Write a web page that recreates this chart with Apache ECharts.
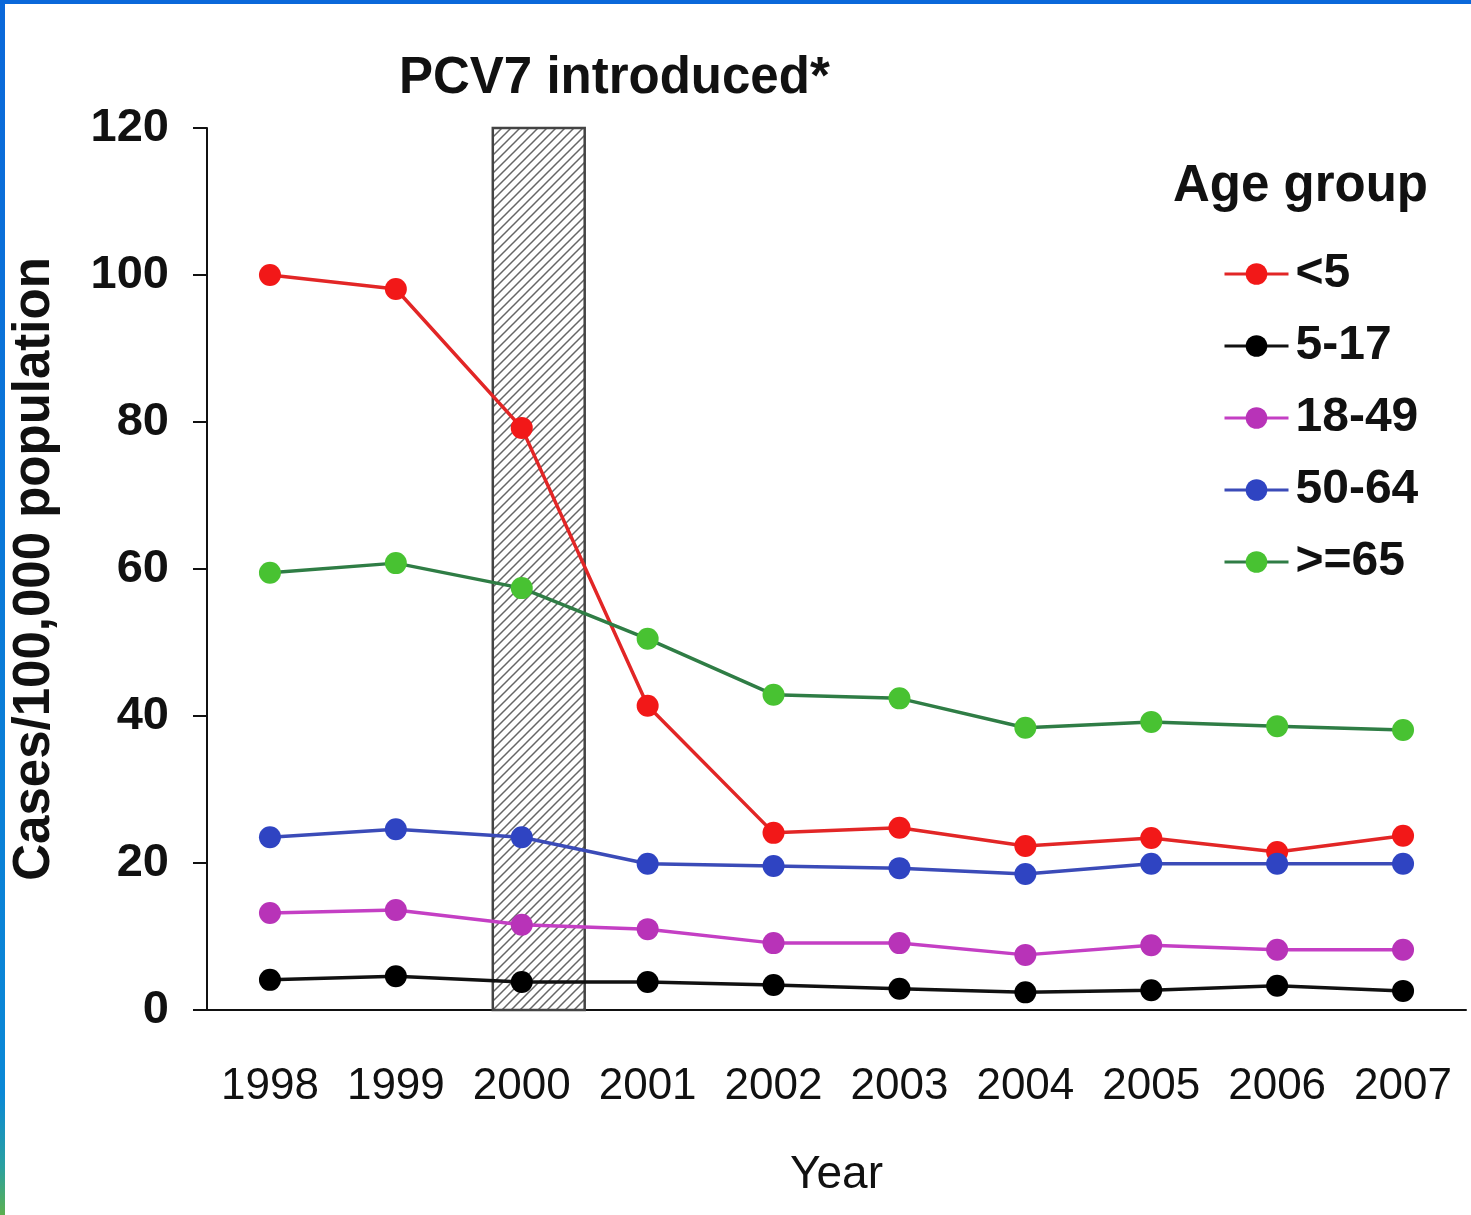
<!DOCTYPE html>
<html>
<head>
<meta charset="utf-8">
<script src="https://cdn.jsdelivr.net/npm/echarts@6/dist/echarts.min.js"></script>
<style>
  html, body { margin: 0; padding: 0; background: #fff; }
  #main { position: absolute; left: 0; top: 0; width: 1471px; height: 1215px; }
  .edge-top { position: absolute; left: 0; top: 0; width: 1471px; height: 4px; background: #0a68da; }
  .edge-left { position: absolute; left: 0; top: 0; width: 5px; height: 1215px;
    background: linear-gradient(#0a68da 0%, #0a88d6 90%, #2aa0a0 96%, #5cb050 100%); }
</style>
</head>
<body>
<div id="main"></div>
<div class="edge-top"></div>
<div class="edge-left"></div>
<script>
// years on the x axis
const years = ['1998', '1999', '2000', '2001', '2002', '2003', '2004', '2005', '2006', '2007'];

// cases per 100,000 population, by age group
const under5 = [100, 98.1, 79.2, 41.4, 24.1, 24.8, 22.3, 23.4, 21.5, 23.7];
const age5to17 = [4.1, 4.6, 3.8, 3.8, 3.4, 2.9, 2.4, 2.7, 3.3, 2.6];
const age18to49 = [13.2, 13.6, 11.6, 11.0, 9.1, 9.1, 7.5, 8.8, 8.2, 8.2];
const age50to64 = [23.5, 24.6, 23.5, 19.9, 19.6, 19.3, 18.5, 19.9, 19.9, 19.9];
const age65plus = [59.5, 60.8, 57.4, 50.5, 42.9, 42.4, 38.4, 39.2, 38.6, 38.1];

// PCV7 introduction period (in fractional years, on a hidden value axis)
const pcvStart = 1999.77;
const pcvEnd = 2000.5;

const chart = echarts.init(document.getElementById('main'));

// hatch pattern for the PCV7 box
function hatch() {
    const c = document.createElement('canvas');
    c.width = 9;
    c.height = 9;
    const ctx = c.getContext('2d');
    ctx.fillStyle = '#fff';
    ctx.fillRect(0, 0, 9, 9);
    ctx.strokeStyle = '#666';
    ctx.lineWidth = 1.5;
    ctx.beginPath();
    ctx.moveTo(-1, 10); ctx.lineTo(10, -1);
    ctx.moveTo(-1, 1); ctx.lineTo(1, -1);
    ctx.moveTo(8, 10); ctx.lineTo(10, 8);
    ctx.stroke();
    return c;
}

const font = 'Liberation Sans, Arial, sans-serif';

function lineSeries(name, data, lineColor, dotColor) {
    return {
        name: name,
        type: 'line',
        data: data,
        symbol: 'circle',
        symbolSize: 22,
        lineStyle: { color: lineColor, width: 3.5 },
        itemStyle: { color: dotColor },
        z: 5
    };
}

const option = {
    animation: false,
    backgroundColor: '#fff',
    title: [
        {
            text: 'PCV7 introduced*',
            left: 394,
            top: 48,
            textStyle: { fontFamily: font, fontSize: 51, fontWeight: 'bold', color: '#111' }
        },
        {
            text: 'Age group',
            left: 1168,
            top: 156,
            textStyle: { fontFamily: font, fontSize: 51, fontWeight: 'bold', color: '#111' }
        }
    ],
    legend: {
        orient: 'vertical',
        left: 1218,
        top: 245,
        itemWidth: 64,
        itemHeight: 27,
        itemGap: 24,
        data: ['<5', '5-17', '18-49', '50-64', '>=65'],
        lineStyle: { width: 3 },
        textStyle: {
            fontFamily: font, fontSize: 48, fontWeight: 'bold', color: '#111',
            lineHeight: 48, padding: [0, 0, 0, 2]
        }
    },
    grid: { left: 207, top: 128, width: 1259, height: 882 },
    xAxis: [
        {
            type: 'category',
            data: years,
            boundaryGap: true,
            name: 'Year',
            nameLocation: 'middle',
            nameGap: 142,
            nameTextStyle: { fontFamily: font, fontSize: 46, color: '#111' },
            axisLine: { lineStyle: { color: '#111', width: 2 } },
            axisTick: { length: 13, lineStyle: { color: '#111', width: 2 } },
            axisLabel: { fontFamily: font, fontSize: 44, color: '#111', margin: 55, interval: 0 }
        },
        {
            type: 'value',
            min: 1997.5,
            max: 2007.5,
            show: false
        }
    ],
    yAxis: {
        type: 'value',
        min: 0,
        max: 120,
        interval: 20,
        name: 'Cases/100,000 population',
        nameLocation: 'middle',
        nameGap: 147,
        nameTextStyle: { fontFamily: font, fontSize: 51, fontWeight: 'bold', color: '#111' },
        splitLine: { show: false },
        axisLine: { show: true, lineStyle: { color: '#111', width: 2 } },
        axisTick: { show: true, length: 14, lineStyle: { color: '#111', width: 2 } },
        axisLabel: { fontFamily: font, fontSize: 47, fontWeight: 'bold', color: '#111', margin: 38 }
    },
    series: [
        {
            name: 'pcv7',
            type: 'line',
            xAxisIndex: 1,
            data: [[1997.5, 0]],
            symbol: 'none',
            silent: true,
            lineStyle: { opacity: 0 },
            markArea: {
                silent: true,
                itemStyle: {
                    color: { image: hatch(), repeat: 'repeat' },
                    borderColor: '#444',
                    borderWidth: 2.5
                },
                data: [[{ xAxis: pcvStart, yAxis: 0 }, { xAxis: pcvEnd, yAxis: 120 }]]
            },
            z: 1
        },
        lineSeries('<5', under5, '#e22626', '#f21818'),
        lineSeries('5-17', age5to17, '#111111', '#000000'),
        lineSeries('18-49', age18to49, '#c43fc4', '#b833b8'),
        lineSeries('50-64', age50to64, '#3b4bb8', '#2f44c2'),
        lineSeries('>=65', age65plus, '#2f7d45', '#48c232')
    ]
};

chart.setOption(option);
</script>
</body>
</html>
